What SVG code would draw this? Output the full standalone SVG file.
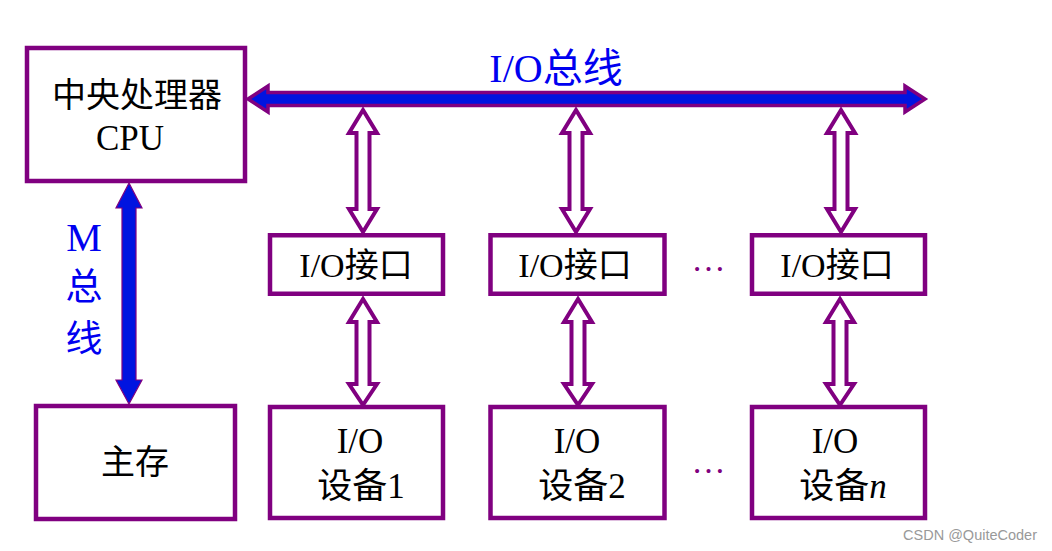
<svg xmlns="http://www.w3.org/2000/svg" xmlns:xlink="http://www.w3.org/1999/xlink" width="1052" height="551" viewBox="0 0 1052 551">
<style>
.box{fill:#ffffff;stroke:#800080;stroke-width:4.5}
.t{font-family:'Liberation Serif','Noto Sans CJK SC',serif;fill:#000000;text-anchor:middle}
.bl{font-family:'Liberation Serif','Noto Sans CJK SC',serif;fill:#0000F0;text-anchor:middle}
.hollow{fill:#ffffff;stroke:#800080;stroke-width:4;stroke-linejoin:miter}
.bus{fill:#0014E0;stroke:#800080;stroke-linejoin:miter}
.dots{font-family:'Liberation Serif',serif;fill:#800080;text-anchor:middle;font-size:34px}
</style>
<defs>
<polygon id="haTop" class="hollow" points="0,110 14,133 6.5,133 6.5,209 14,209 0,232 -14,209 -6.5,209 -6.5,133 -14,133"/>
<polygon id="haBot" class="hollow" points="0,299 14,322 6.5,322 6.5,384 14,384 0,405 -14,384 -6.5,384 -6.5,322 -14,322"/>
</defs>
<rect width="1052" height="551" fill="#ffffff"/>
<g id="connectors">
<polygon id="io-bus" class="bus" stroke-width="3.5" points="248,99 268,86 268,92.5 905,92.5 905,86 925,99 905,112 905,105.5 268,105.5 268,112"/>
<polygon id="m-bus" class="bus" stroke-width="1.2" points="129,183 142,208 136,208 136,380 142,380 129,404 116,380 122,380 122,208 116,208"/>
<use xlink:href="#haTop" x="363"/>
<use xlink:href="#haTop" x="576"/>
<use xlink:href="#haTop" x="841"/>
<use xlink:href="#haBot" x="363"/>
<use xlink:href="#haBot" x="578"/>
<use xlink:href="#haBot" x="840"/>
</g>
<g id="labels">
<text class="bl" x="556" y="82" font-size="40">I/O总线</text>
<text class="bl" x="84" y="251" font-size="40">M</text>
<text class="bl" x="84" y="300" font-size="37">总</text>
<text class="bl" x="84" y="352" font-size="37">线</text>
<text class="dots" x="708.5" y="271">…</text>
<text class="dots" x="708.5" y="473">…</text>
</g>
<g id="cpu">
<rect class="box" x="27" y="48" width="218" height="133"/>
<text class="t" x="137" y="107" font-size="34">中央处理器</text>
<text class="t" x="130" y="150" font-size="35">CPU</text>
</g>
<g id="memory">
<rect class="box" x="36" y="406" width="199" height="113"/>
<text class="t" x="135" y="474" font-size="34">主存</text>
</g>
<g id="io-if-1">
<rect class="box" x="270" y="235.25" width="173" height="58.5"/>
<text class="t" x="356" y="277" font-size="34">I/O接口</text>
</g>
<g id="io-if-2">
<rect class="box" x="490.5" y="235.25" width="174" height="58.5"/>
<text class="t" x="575" y="277" font-size="34">I/O接口</text>
</g>
<g id="io-if-3">
<rect class="box" x="752" y="235.25" width="173" height="58.5"/>
<text class="t" x="837" y="277" font-size="34">I/O接口</text>
</g>
<g id="io-dev-1">
<rect class="box" x="270" y="407" width="173" height="111"/>
<text class="t" x="360" y="453" font-size="35">I/O</text>
<text class="t" x="361" y="498" font-size="35">设备1</text>
</g>
<g id="io-dev-2">
<rect class="box" x="490.5" y="407" width="174" height="111"/>
<text class="t" x="577" y="453" font-size="35">I/O</text>
<text class="t" x="582" y="498" font-size="35">设备2</text>
</g>
<g id="io-dev-n">
<rect class="box" x="752" y="407" width="173" height="111"/>
<text class="t" x="835" y="453" font-size="35">I/O</text>
<text class="t" x="843" y="498" font-size="35">设备<tspan font-style="italic">n</tspan></text>
</g>
<text x="1037" y="540" font-family="'Liberation Sans',Arial,sans-serif" font-size="14.5" fill="#999999" text-anchor="end">CSDN @QuiteCoder</text>
</svg>
